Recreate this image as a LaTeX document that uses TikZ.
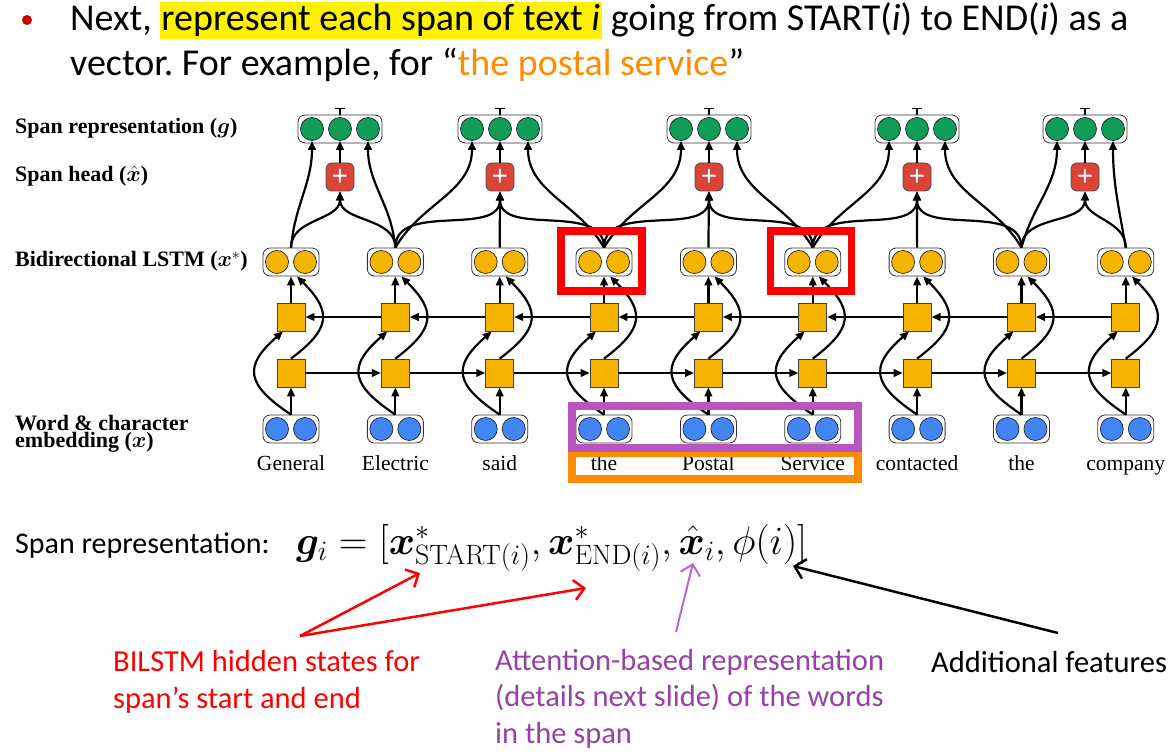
\RequirePackage{fix-cm}
\documentclass[tikz,border=0pt]{standalone}
\usepackage{amsmath,bm}
\usepackage[no-math]{fontspec}
\setmainfont{Carlito}
\newfontfamily\tnr{Liberation Serif}
\newfontfamily\lsans{Liberation Sans}
\frenchspacing
\usetikzlibrary{arrows.meta,calc}
\definecolor{gGreen}{RGB}{15,157,88}
\definecolor{gYellow}{RGB}{244,180,0}
\definecolor{gBlue}{RGB}{66,133,244}
\definecolor{gRed}{RGB}{219,68,55}
\definecolor{bxPurple}{RGB}{185,85,190}
\definecolor{bxOrange}{RGB}{255,140,0}
\definecolor{txPurple}{RGB}{150,65,165}
\definecolor{arPurple}{RGB}{190,100,210}
\definecolor{hlYellow}{RGB}{255,242,0}
\definecolor{bulRed}{RGB}{200,0,0}
\definecolor{phOrange}{RGB}{255,140,0}
\tikzset{
  pairbox/.style={draw=black!80, line width=0.8pt, fill=white, rounded corners=7pt, minimum width=56pt, minimum height=28pt, inner sep=0pt},
  tribox/.style={draw=black!80, line width=0.8pt, fill=white, rounded corners=7pt, minimum width=84pt, minimum height=28pt, inner sep=0pt},
  dot/.style={circle, draw=black!85, line width=0.7pt, minimum size=23pt, inner sep=0pt},
  sq/.style={draw=black!75, line width=0.8pt, fill=gYellow, minimum size=28pt, inner sep=0pt},
  plusbox/.style={draw=black!70, line width=0.8pt, fill=gRed, rounded corners=6pt, minimum size=28pt, inner sep=0pt, text=white, font=\lsans\fontsize{28}{28}\selectfont},
  arr/.style={line width=2.2pt, -{Triangle[length=9pt,width=7.5pt]}},
  tee/.style={line width=1.3pt, -{Bar[width=10pt]}},
  lbl/.style={anchor=base west, inner sep=0pt, font=\tnr\bfseries\fontsize{22}{17}\selectfont, align=left},
  word/.style={anchor=base, inner sep=0pt, font=\tnr\fontsize{21.5}{24}\selectfont},
  slide/.style={anchor=base west, inner sep=0pt, font=\fontsize{38}{45}\selectfont},
  note/.style={anchor=base west, inner sep=0pt, font=\fontsize{30.5}{36.5}\selectfont, align=left},
  hibox/.style={draw=red, line width=7.5pt, minimum width=81pt, minimum height=60pt, inner sep=0pt},
  annot/.style={line width=2.5pt, -{Straight Barb[length=10pt,width=20pt]}}
}
\begin{document}
\begin{tikzpicture}[x=1pt,y=1pt]
\useasboundingbox (0,0) rectangle (1176,-754);
% title
\node[circle, fill=bulRed, minimum size=10pt, inner sep=0pt] (bul) at (27,-20) {};
\node[slide] (t1) at (70,-31) {Next, {\setlength{\fboxsep}{0pt}\colorbox{hlYellow}{\rule[-8pt]{0pt}{37pt}\kern1pt represent each span of text \textit{i}\kern2pt}} going from START(\textit{i}) to END(\textit{i}) as a};
\node[slide] (t2) at (70,-76) {vector. For example, for “\textcolor{phOrange}{the postal service}”};
% left labels
\node[lbl] (lg) at (15,-134) {Span representation ($\boldsymbol{g}$)};
\node[lbl] (lx) at (15,-182) {Span head ($\hat{\boldsymbol{x}}$)};
\node[lbl] (lb) at (15,-267) {Bidirectional LSTM ($\boldsymbol{x}^{*}$)};
\node[lbl] (le) at (15,-447) {Word \& character\\embedding ($\boldsymbol{x}$)};
% columns
\foreach \w [count=\c from 0] in {General,Electric,said,the,Postal,Service,contacted,the,company} {
  \pgfmathsetmacro\xx{291+104.35*\c}
  \node[pairbox] (e\c) at (\xx,-429) {};
  \node[dot, fill=gBlue] (e\c a) at (\xx-14,-429) {};
  \node[dot, fill=gBlue] (e\c b) at (\xx+14,-429) {};
  \node[sq] (l\c) at (\xx,-373) {};
  \node[sq] (u\c) at (\xx,-317) {};
  \node[pairbox] (h\c) at (\xx,-262) {};
  \node[dot, fill=gYellow] (h\c a) at (\xx-14,-262) {};
  \node[dot, fill=gYellow] (h\c b) at (\xx+14,-262) {};
  \node[word] (w\c) at (\xx,-470) {\w};
  \draw[arr] (e\c.north) -- (l\c.south);
  \draw[arr] (e\c.north) .. controls +(-45,30) and +(-40,-35) .. ([xshift=-8pt]u\c.south);
  \draw[arr] (l\c.north) .. controls +(40,30) and +(35,-35) .. ([xshift=6pt]h\c.south);
  \draw[arr] (u\c.north) -- (h\c.south);
}
\foreach \c in {0,...,7} {
  \pgfmathtruncatemacro\n{\c+1}
  \draw[arr] (l\c.east) -- (l\n.west);
  \draw[arr] (u\n.west) -- (u\c.east);
}
% spans
\foreach \s/\cx/\lc/\rc/\oL/\oR in {A/340/0/1/85/95, B/500/1/3/60/120, C/709/3/5/60/120, D/917/5/7/60/120, E/1085/7/8/75/100} {
  \node[tribox] (g\s) at (\cx,-129) {};
  \node[dot, fill=gGreen] (g\s1) at (\cx-28,-129) {};
  \node[dot, fill=gGreen] (g\s2) at (\cx,-129) {};
  \node[dot, fill=gGreen] (g\s3) at (\cx+28,-129) {};
  \coordinate (t\s) at (\cx,-108);
  \draw[tee] (g\s.north) -- (t\s);
  \node[plusbox] (p\s) at (\cx,-177) {+};
  \draw[arr] (p\s.north) -- (g\s2.south);
  \draw[arr] (h\lc.north) to[out=\oL,in=-90] (g\s1.south);
  \draw[arr] (h\rc.north) to[out=\oR,in=-90] (g\s3.south);
  \draw[arr] (h\lc.north) to[out=90,in=-90] (p\s.south);
  \draw[arr] (h\rc.north) to[out=90,in=-90] (p\s.south);
}
\draw[arr] (h2.north) -- (pB.south);
\draw[arr] (h4.north) -- (pC.south);
\draw[arr] (h6.north) -- (pD.south);
% highlight boxes
\node[hibox] (r1) at (601.5,-261) {};
\node[hibox] (r2) at (811,-261) {};
\node[draw=bxOrange, line width=7.5pt, minimum width=286pt, minimum height=26pt, inner sep=0pt] (ob) at (715,-466) {};
\node[draw=bxPurple, line width=7.5pt, minimum width=286pt, minimum height=42pt, inner sep=0pt] (pb) at (715,-427) {};
% equation
\node[anchor=base west, inner sep=0pt, font=\fontsize{30}{36}\selectfont] (sr) at (15,-553) {Span representation:};
\node[anchor=base west, inner sep=0pt, font=\fontsize{40}{48}\selectfont] (eq) at (296,-554) {$\boldsymbol{g}_i = [\boldsymbol{x}^*_{\mathrm{START}(i)}, \boldsymbol{x}^*_{\mathrm{END}(i)}, \hat{\boldsymbol{x}}_i, \phi(i)]$};
% notes
\node[note, text=red] (nr) at (113,-708) {BILSTM hidden states for\\span’s start and end};
\node[note, text=txPurple] (np) at (495,-743) {Attention-based representation\\(details next slide) of the words\\in the span};
\node[note] (nb) at (931,-672) {Additional features};
\coordinate (cr) at (300,-636);
\coordinate (ar1) at (420,-573);
\coordinate (ar2) at (586,-588);
\coordinate (cp) at (676,-632);
\coordinate (ap) at (693,-563);
\coordinate (cb) at (1058,-633);
\coordinate (ab) at (793,-566);
\draw[annot, red] (cr) -- (ar1);
\draw[annot, red] (cr) -- (ar2);
\draw[annot, arPurple, line width=2pt] (cp) -- (ap);
\draw[annot, black] (cb) -- (ab);
\end{tikzpicture}
\end{document}
